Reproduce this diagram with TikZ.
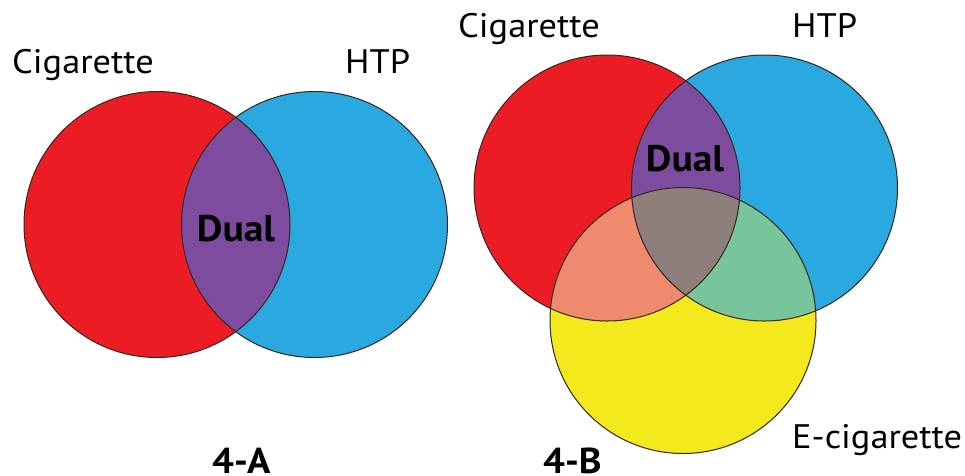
\documentclass[tikz,border=0pt]{standalone}
\usepackage{fontspec}
\setmainfont{PT Sans}[FakeStretch=1.07]
\definecolor{cred}{HTML}{EC1C24}
\definecolor{cblue}{HTML}{2AA8E0}
\definecolor{cpurple}{HTML}{7E4C9E}
\definecolor{cyellow}{HTML}{F4E91C}
\definecolor{csalmon}{HTML}{F08A6F}
\definecolor{cgreen}{HTML}{79C59B}
\definecolor{cgrey}{HTML}{8E7E7C}
\definecolor{coutline}{HTML}{33261F}
\begin{document}
\begin{tikzpicture}[x=1pt,y=-1pt,
  outline/.style={draw=coutline,line width=1pt},
  setlabel/.style={anchor=base west,inner sep=0pt,font=\fontsize{34}{38}\selectfont},
  duallabel/.style={inner sep=0pt,font=\fontsize{37}{40}\selectfont\bfseries},
  panellabel/.style={anchor=base west,inner sep=0pt,font=\fontsize{36}{40}\selectfont\bfseries}]
\useasboundingbox (0,0) rectangle (965,475);
\fill[white] (0,0) rectangle (965,475);
\def\R{133}
% Panel A
\coordinate (Ar) at (157,224.5);
\coordinate (Ab) at (314.5,224.5);
\fill[cred] (Ar) circle[radius=\R];
\fill[cblue] (Ab) circle[radius=\R];
\begin{scope}
  \clip (Ar) circle[radius=\R];
  \fill[cpurple] (Ab) circle[radius=\R];
\end{scope}
\draw[outline] (Ar) circle[radius=\R];
\draw[outline] (Ab) circle[radius=\R];
% Panel B
\coordinate (Br) at (607,188);
\coordinate (Bb) at (764.5,188);
\coordinate (By) at (683,320.5);
\fill[cred] (Br) circle[radius=\R];
\fill[cblue] (Bb) circle[radius=\R];
\fill[cyellow] (By) circle[radius=\R];
\begin{scope}
  \clip (Br) circle[radius=\R];
  \fill[cpurple] (Bb) circle[radius=\R];
  \fill[csalmon] (By) circle[radius=\R];
\end{scope}
\begin{scope}
  \clip (Bb) circle[radius=\R];
  \fill[cgreen] (By) circle[radius=\R];
\end{scope}
\begin{scope}
  \clip (Br) circle[radius=\R];
  \clip (Bb) circle[radius=\R];
  \fill[cgrey] (By) circle[radius=\R];
\end{scope}
\draw[outline] (Br) circle[radius=\R];
\draw[outline] (Bb) circle[radius=\R];
\draw[outline] (By) circle[radius=\R];
% Labels
\node[setlabel] (cigA) at (12,73) {Cigarette};
\node[setlabel] (htpA) at (345,73) {HTP};
\node[duallabel] (dualA) at (236,229) {Dual};
\node[panellabel] (panA) at (212,473) {4-A};
\node[setlabel] (cigB) at (458,37) {Cigarette};
\node[setlabel] (htpB) at (792,37) {HTP};
\node[duallabel] (dualB) at (685,159) {Dual};
\node[setlabel] (ecig) at (792,448) {E-cigarette};
\node[panellabel] (panB) at (543,473) {4-B};
\end{tikzpicture}
\end{document}
